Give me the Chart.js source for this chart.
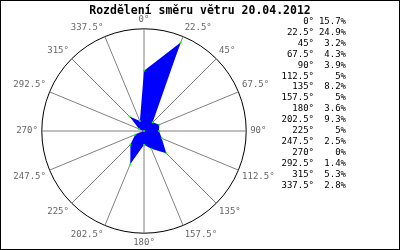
<!DOCTYPE html>
<html>
<head>
<meta charset="utf-8">
<script src="https://cdn.jsdelivr.net/npm/chart.js"></script>
<style>
  html, body { margin: 0; padding: 0; background: #fff; }
  #box {
    position: relative; width: 400px; height: 250px;
    box-sizing: border-box; border: 1px solid #000; overflow: hidden;
  }
  #title {
    position: absolute; left: 0; top: 3px; width: 398px; text-align: center;
    font-family: "DejaVu Sans Mono", monospace; font-size: 11.5px; font-weight: bold;
    color: #000; line-height: 13px;
  }
  #chartWrap { position: absolute; left: 0; top: 0; width: 398px; height: 248px; }
  #legend {
    position: absolute; left: 279px; top: 15px;
    font-family: "DejaVu Sans Mono", monospace; font-size: 9px; color: #000;
    border-collapse: collapse; table-layout: fixed;
  }
  #legend td { padding: 0; height: 10.9px; line-height: 10.9px; text-align: right; white-space: nowrap; }
  #legend td.a { width: 34px; }
  #legend td.v { width: 32px; }
</style>
</head>
<body>
<div id="box">
  <div id="chartWrap"><canvas id="myChart"></canvas></div>
  <div id="title">Rozdělení směru větru 20.04.2012</div>
  <table id="legend"></table>
</div>
<script>
const angles = ["0", "22.5", "45", "67.5", "90", "112.5", "135", "157.5",
  "180", "202.5", "225", "247.5", "270", "292.5", "315", "337.5"];
const shares = [15.7, 24.9, 3.2, 4.3, 3.9, 5, 8.2, 5, 3.6, 9.3, 5, 2.5, 0, 1.4, 5.3, 2.8];
const scaleMax = 26.6;

const labels = angles.map(a => a + "°");

// legend list on the right
let rows = "";
for (let i = 0; i < angles.length; i++) {
  rows += `<tr><td class="a">${angles[i]}°</td><td class="v">${shares[i]}%</td></tr>`;
}
document.getElementById("legend").innerHTML = rows;

const ctx = document.getElementById("myChart");

const myChart = new Chart(ctx, {
  type: "radar",
  data: {
    labels: labels,
    datasets: [
      {
        data: shares,
        backgroundColor: "#0000ff",
        borderWidth: 0,
        fill: true,
        pointRadius: 1,
        pointBorderWidth: 0,
        pointBackgroundColor: "#00ff00",
      },
    ],
  },
  options: {
    animation: false,
    responsive: true,
    maintainAspectRatio: false,
    layout: { padding: { left: 0, right: 110, top: 14, bottom: 0 } },
    plugins: {
      legend: { display: false },
      tooltip: { enabled: false },
    },
    scales: {
      r: {
        min: 0,
        max: scaleMax,
        startAngle: 0,
        ticks: { display: false, stepSize: scaleMax },
        grid: { color: "#000", circular: true, lineWidth: 1 },
        angleLines: { color: "#808080", lineWidth: 1 },
        pointLabels: {
          color: "#666",
          padding: 4,
          font: { family: "DejaVu Sans Mono", size: 9 },
        },
      },
    },
  },
});
</script>
</body>
</html>
